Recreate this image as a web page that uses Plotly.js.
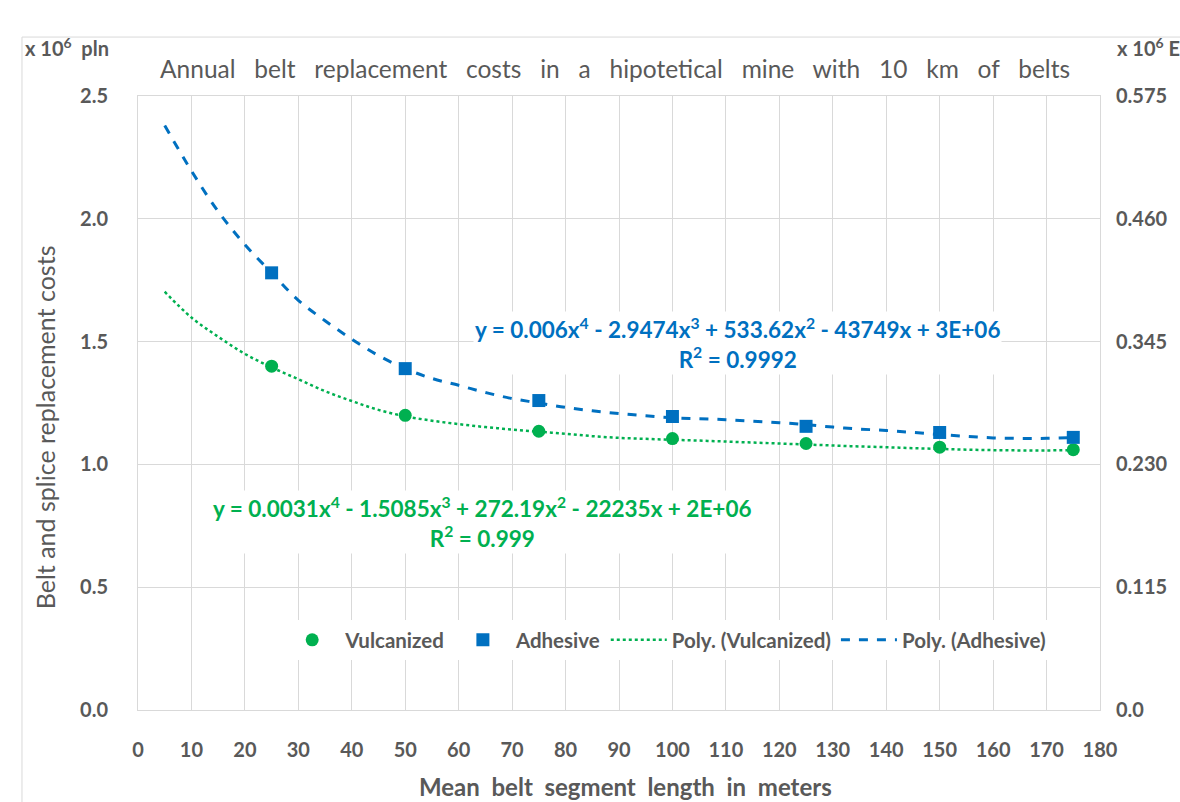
<!DOCTYPE html>
<html>
<head>
<meta charset="utf-8">
<script src="https://cdn.plot.ly/plotly-3.0.1.min.js"></script>
<style>html,body{margin:0;padding:0;background:#fff;}#chart{width:1180px;height:802px;}</style>
</head>
<body>
<div id="chart"></div>
<script>
// Data (values in x 10^6 pln)
var segLength = [25, 50, 75, 100, 125, 150, 175];
var vulcanized = [1.40, 1.20, 1.135, 1.105, 1.085, 1.07, 1.06];
var adhesive = [1.78, 1.39, 1.26, 1.195, 1.155, 1.13, 1.11];

var trendX = [5,10,15,20,25,30,35,40,45,50,55,60,65,70,75,80,85,90,95,100,105,110,115,120,125,130,135,140,145,150,155,160,165,170,175];
var trendVulcanized = [1.703,1.598,1.52,1.45,1.395,1.347,1.298,1.258,1.222,1.196,1.178,1.164,1.152,1.142,1.133,1.125,1.115,1.108,1.104,1.10,1.097,1.093,1.089,1.085,1.081,1.077,1.073,1.07,1.066,1.063,1.06,1.058,1.057,1.057,1.058];
var trendAdhesive = [2.38,2.195,2.03,1.895,1.78,1.668,1.585,1.51,1.443,1.39,1.35,1.322,1.293,1.268,1.25,1.232,1.218,1.207,1.198,1.19,1.186,1.182,1.176,1.17,1.162,1.152,1.144,1.138,1.13,1.122,1.114,1.108,1.106,1.106,1.11];

var xTicks = [0,10,20,30,40,50,60,70,80,90,100,110,120,130,140,150,160,170,180];
var yTicks = [0, 0.5, 1.0, 1.5, 2.0, 2.5];
var yTickText = ["0.0","0.5","1.0","1.5","2.0","2.5"];
var y2Ticks = [0, 0.115, 0.230, 0.345, 0.460, 0.575];
var y2TickText = ["0.0","0.115","0.230","0.345","0.460","0.575"];

var BLUE = "#0070C0", GREEN = "#00B050", GRAY = "#595959";
var FONT = "Lato, 'Open Sans', sans-serif";
var S = "\u00a0";

var traces = [
  {x: segLength, y: vulcanized, type: "scatter", mode: "markers", name: "Vulcanized",
   marker: {symbol: "circle", size: 13, color: GREEN}},
  {x: segLength, y: adhesive, type: "scatter", mode: "markers", name: "Adhesive",
   marker: {symbol: "square", size: 13, color: BLUE}},
  {x: trendX, y: trendVulcanized, type: "scatter", mode: "lines", name: "Poly. (Vulcanized)",
   line: {color: GREEN, width: 2.5, dash: "dot", shape: "spline"}},
  {x: trendX, y: trendAdhesive, type: "scatter", mode: "lines", name: "Poly. (Adhesive)",
   line: {color: BLUE, width: 3, dash: "dash", shape: "spline"}},
  {x: [0], y: [0], yaxis: "y2", type: "scatter", mode: "markers", showlegend: false,
   hoverinfo: "skip", marker: {opacity: 0}}
];

var tickFont = {size: 20, color: GRAY, family: FONT, weight: "bold"};

var layout = {
  width: 1180, height: 802,
  margin: {l: 138, r: 80, t: 96, b: 92},
  paper_bgcolor: "#fff", plot_bgcolor: "#fff",
  font: {family: FONT, color: GRAY},
  showlegend: true,
  legend: {orientation: "h", x: 0.548, xanchor: "center", y: 0.114, yanchor: "middle",
    bgcolor: "#fff", font: {size: 20.5, color: GRAY, family: FONT, weight: "bold"},
    traceorder: "normal", itemwidth: 56},
  xaxis: {range: [0, 180], tickvals: xTicks, ticks: "", ticklabelstandoff: 22,
    showgrid: true, gridcolor: "#D9D9D9", gridwidth: 1, zeroline: false,
    showline: true, linecolor: "#D9D9D9", linewidth: 1, mirror: true,
    tickfont: tickFont},
  yaxis: {range: [0, 2.5], tickvals: yTicks, ticktext: yTickText, ticks: "", ticklabelstandoff: 25,
    showgrid: true, gridcolor: "#D9D9D9", gridwidth: 1, zeroline: false,
    showline: true, linecolor: "#D9D9D9", linewidth: 1, mirror: true,
    tickfont: tickFont},
  yaxis2: {range: [0, 0.575], overlaying: "y", side: "right", tickvals: y2Ticks, ticktext: y2TickText,
    ticks: "", ticklabelstandoff: 15, showgrid: false, zeroline: false, showline: false,
    tickfont: tickFont},
  shapes: [
    {type: "line", xref: "paper", yref: "paper", x0: -0.1206, x1: -0.1206, y0: 1.096, y1: -0.16,
     line: {color: "#D9D9D9", width: 1}},
    {type: "line", xref: "paper", yref: "paper", x0: -0.1206, x1: 1.1, y0: 1.096, y1: 1.096,
     line: {color: "#D9D9D9", width: 1}}
  ],
  annotations: [
    {xref: "paper", yref: "paper", x: 0.496, y: 1.044, xanchor: "center", yanchor: "middle", showarrow: false,
     text: ["Annual","belt","replacement","costs","in","a","hipotetical","mine","with","10","km","of","belts"].join(S+S+S),
     font: {size: 24.5, color: GRAY, family: FONT}},
    {xref: "paper", yref: "paper", x: -0.12, y: 1.08, xanchor: "left", yanchor: "middle", showarrow: false,
     text: "x" + S + "10<sup>6</sup>" + S + S + "pln", font: {size: 20, color: GRAY, family: FONT, weight: "bold"}},
    {xref: "paper", yref: "paper", x: 1.016, y: 1.08, xanchor: "left", yanchor: "middle", showarrow: false,
     text: "x" + S + "10<sup>6</sup>" + S + "EUR", font: {size: 20, color: GRAY, family: FONT, weight: "bold"}},
    {xref: "paper", yref: "paper", x: -0.097, y: 0.46, xanchor: "center", yanchor: "middle", showarrow: false,
     textangle: -90, text: "Belt and splice replacement costs",
     font: {size: 25, color: GRAY, family: FONT}},
    {xref: "paper", yref: "paper", x: 0.507, y: -0.124, xanchor: "center", yanchor: "middle", showarrow: false,
     text: ["Mean","belt","segment","length","in","meters"].join(S+S),
     font: {size: 24, color: GRAY, family: FONT, weight: "bold"}},
    {xref: "paper", yref: "paper", x: 0.623, y: 0.598, xanchor: "center", yanchor: "middle", showarrow: false,
     bgcolor: "#fff", align: "center",
     text: "y = 0.006x<sup>4</sup> - 2.9474x<sup>3</sup> + 533.62x<sup>2</sup> - 43749x + 3E+06<br>R<sup>2</sup> = 0.9992",
     font: {size: 22.5, color: BLUE, family: FONT, weight: "bold"}},
    {xref: "paper", yref: "paper", x: 0.358, y: 0.307, xanchor: "center", yanchor: "middle", showarrow: false,
     bgcolor: "#fff", align: "center",
     text: "y = 0.0031x<sup>4</sup> - 1.5085x<sup>3</sup> + 272.19x<sup>2</sup> - 22235x + 2E+06<br>R<sup>2</sup> = 0.999",
     font: {size: 22.5, color: GREEN, family: FONT, weight: "bold"}}
  ]
};

Plotly.newPlot("chart", traces, layout, {displayModeBar: false, staticPlot: true});
</script>
</body>
</html>
